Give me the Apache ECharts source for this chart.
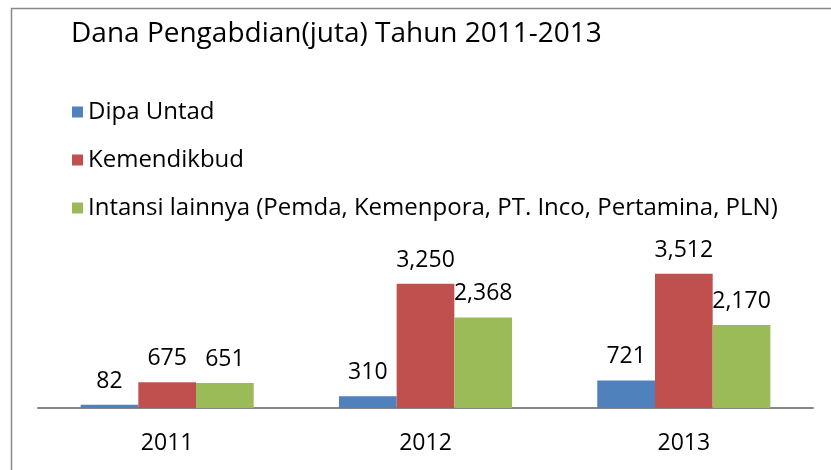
<!DOCTYPE html>
<html>
<head>
<meta charset="utf-8">
<script src="https://cdn.jsdelivr.net/npm/echarts@6/dist/echarts.min.js"></script>
<style>html,body{margin:0;padding:0;background:#fff}#c{width:831px;height:470px}</style>
</head>
<body>
<div id="c"></div>
<script>
const categories = ['2011', '2012', '2013'];
const seriesNames = ['Dipa Untad', 'Kemendikbud', 'Intansi lainnya (Pemda, Kemenpora, PT. Inco, Pertamina, PLN)'];
const dipaUntad = [82, 310, 721];
const kemendikbud = [675, 3250, 3512];
const intansiLainnya = [651, 2368, 2170];
const colors = ['#4F81BD', '#C0504D', '#9BBB59'];
const FONT = 'Open Sans';

const chart = echarts.init(document.getElementById('c'));
const values = [dipaUntad, kemendikbud, intansiLainnya];
chart.setOption({
  animation: false,
  color: colors,
  graphic: [{
    type: 'rect', left: 9, top: 6, shape: { width: 900, height: 600 },
    style: { fill: 'none', stroke: '#888', lineWidth: 1.5 }, silent: true, z: -1
  }],
  title: {
    text: 'Dana Pengabdian(juta) Tahun 2011-2013',
    left: 66, top: 15,
    textStyle: { fontFamily: FONT, fontSize: 28, fontWeight: 'normal', color: '#000' }
  },
  legend: {
    orient: 'vertical', left: 67, top: 94,
    itemWidth: 11, itemHeight: 11, itemGap: 22, icon: 'rect',
    textStyle: { fontFamily: FONT, fontSize: 24, color: '#000', lineHeight: 26 },
    data: seriesNames
  },
  grid: { left: 38, right: 18, top: 255, bottom: 62 },
  xAxis: {
    type: 'category', data: categories,
    axisLine: { lineStyle: { color: '#868686', width: 2 } },
    axisTick: { show: false },
    axisLabel: { margin: 24, fontFamily: FONT, fontSize: 23, color: '#000' }
  },
  yAxis: { type: 'value', min: 0, max: 4000, show: false, splitLine: { show: false } },
  series: values.map((v, i) => ({
    name: seriesNames[i], type: 'bar', data: v,
    barGap: '0%', barCategoryGap: '33%',
    label: {
      show: true, position: 'top', distance: 12,
      fontFamily: FONT, fontSize: 23, color: '#000',
      formatter: p => p.value.toLocaleString('en-US')
    }
  }))
});
</script>
</body>
</html>
